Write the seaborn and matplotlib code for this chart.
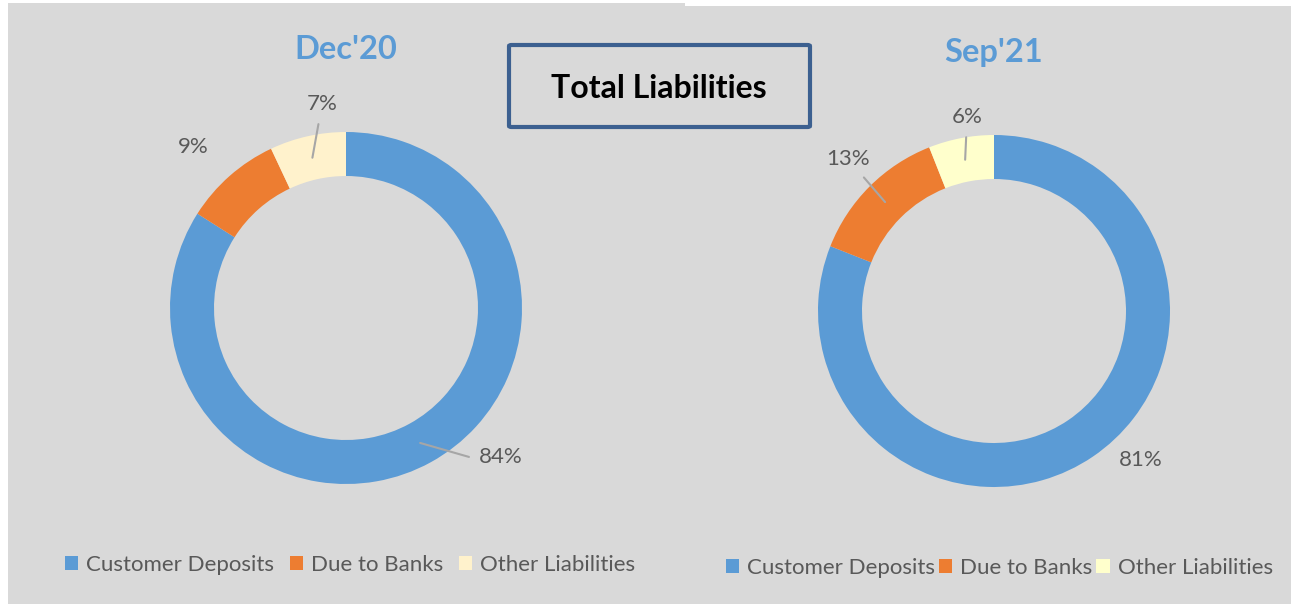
import numpy as np
import matplotlib.pyplot as plt
import seaborn as sns
from matplotlib.patches import Rectangle, FancyBboxPatch, Patch

# data
categories = ["Customer Deposits", "Due to Banks", "Other Liabilities"]
periods = ["Dec'20", "Sep'21"]
dec20 = [84, 9, 7]
sep21 = [81, 13, 6]
colors_dec = ["#5B9BD5", "#ED7D31", "#FFF2CC"]
colors_sep = ["#5B9BD5", "#ED7D31", "#FFFFCC"]

sns.set_theme(style="white")
plt.rcParams["font.family"] = ["Lato", "DejaVu Sans"]

W, H = 1291, 604
fig = plt.figure(figsize=(W / 100, H / 100), dpi=100, facecolor="white")

def fx(x):
    return x / W

def fy(y):
    return 1 - y / H

bg = "#D9D9D9"
fig.add_artist(Rectangle((fx(8), 0), fx(685 - 8), fy(3), transform=fig.transFigure,
                         facecolor=bg, edgecolor="none", zorder=0))
fig.add_artist(Rectangle((fx(685), 0), fx(W - 685), fy(6), transform=fig.transFigure,
                         facecolor=bg, edgecolor="none", zorder=0))

R = 176       # outer radius in px
LIM = 1.6
ring = 0.25   # ring width as fraction of radius

# per-panel layout: centre px, title baseline, label positions (data units), leader style
panels = [
    dict(values=dec20, colors=colors_dec, title=periods[0], cx=346, cy=308, ty=59,
         labels=[(0.881, -0.881, "angle,angleA=0,angleB=-16,rad=0"), (-0.869, 0.881, None),
                 (-0.136, 1.125, "arc3")],
         leg_x=65, leg_y=565, colsp=0.7),
    dict(values=sep21, colors=colors_sep, title=periods[1], cx=994, cy=311, ty=62,
         labels=[(0.835, -0.881, None), (-0.830, 0.830, "arc3"), (-0.153, 1.068, "arc3")],
         leg_x=726, leg_y=568, colsp=0.18),
]

for p in panels:
    size = 2 * R * LIM
    ax = fig.add_axes([fx(p["cx"] - size / 2), fy(p["cy"] + size / 2), fx(size), size / H])
    wedges, _ = ax.pie(p["values"], colors=p["colors"], startangle=90, counterclock=False,
                       radius=1.0, wedgeprops=dict(width=ring, linewidth=0))
    ax.set_xlim(-LIM, LIM)
    ax.set_ylim(-LIM, LIM)
    ax.set_aspect("equal")
    ax.axis("off")
    total = sum(p["values"])
    for w, v, (lx, ly, lead) in zip(wedges, p["values"], p["labels"]):
        mid = np.deg2rad((w.theta1 + w.theta2) / 2)
        rm = 1 - ring / 2
        txt = f"{round(100 * v / total)}%"
        if lead:
            ax.annotate(txt, xy=(rm * np.cos(mid), rm * np.sin(mid)), xytext=(lx, ly),
                        ha="center", va="baseline", fontsize=16, color="#595959",
                        arrowprops=dict(arrowstyle="-", color="#A6A6A6", lw=1.5,
                                        shrinkA=5, shrinkB=0, connectionstyle=lead))
        else:
            ax.text(lx, ly, txt, ha="center", va="baseline", fontsize=16, color="#595959")

    fig.text(fx(p["cx"]), fy(p["ty"]), p["title"], ha="center", va="baseline",
             fontsize=23.5, fontweight="bold", color="#5B9BD5")

    handles = [Patch(facecolor=c, edgecolor="none", label=n) for c, n in zip(p["colors"], categories)]
    fig.legend(handles=handles, loc="center left", bbox_to_anchor=(fx(p["leg_x"]), fy(p["leg_y"])),
               ncol=3, frameon=False, fontsize=16, labelcolor="#595959",
               handlelength=0.6, handleheight=0.6, handletextpad=0.35,
               columnspacing=p["colsp"], borderpad=0, borderaxespad=0)

# title box
fig.add_artist(FancyBboxPatch((fx(509), fy(127)), fx(810 - 509), (127 - 45) / H,
                              boxstyle="round,pad=0,rounding_size=0.002",
                              transform=fig.transFigure, facecolor=bg,
                              edgecolor="#3C6090", linewidth=3, zorder=3))
fig.text(fx(659), fy(98), "Total Liabilities", ha="center", va="baseline",
         fontsize=23, fontweight="bold", color="black", zorder=4)

fig.savefig("out.png", dpi=100, facecolor="white")
